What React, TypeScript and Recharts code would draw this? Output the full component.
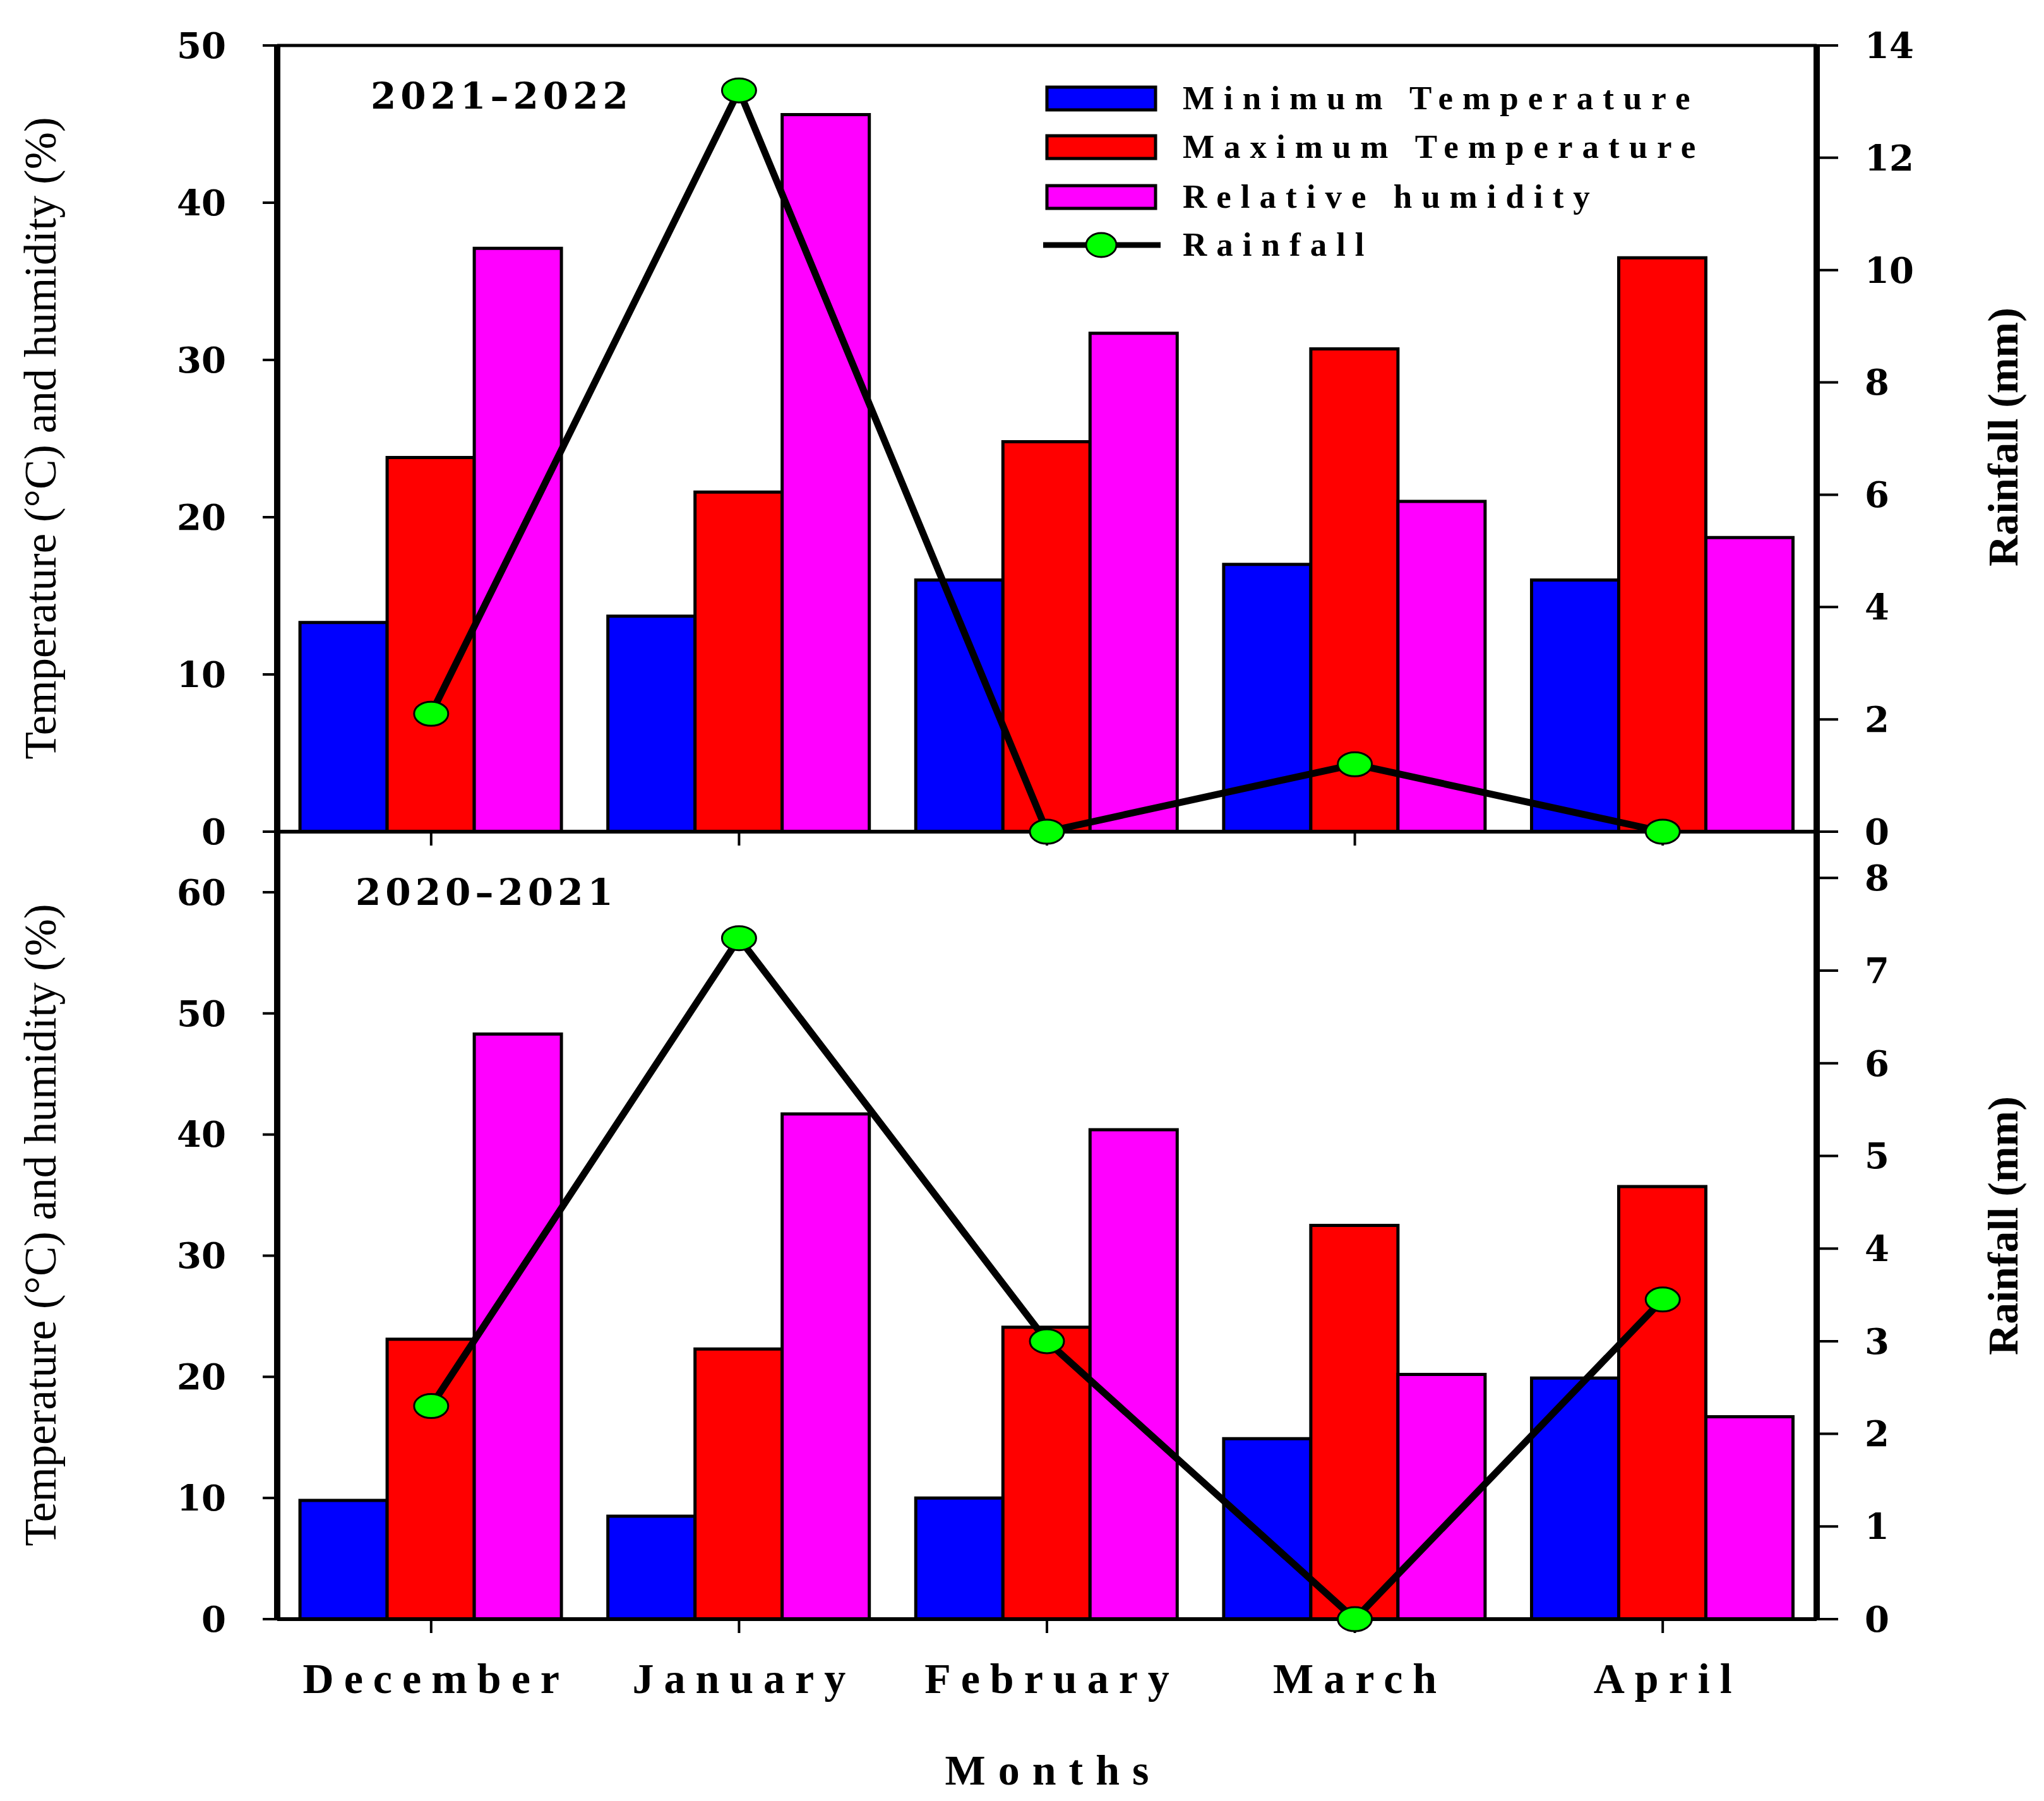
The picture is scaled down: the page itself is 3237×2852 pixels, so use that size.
import { ComposedChart, Bar, Line, XAxis, YAxis, ReferenceLine } from "recharts"

const months = ["December", "January", "February", "March", "April"]

// 2021–2022 season (top panel)
const minTemp2122 = [13.3, 13.7, 16.0, 17.0, 16.0]
const maxTemp2122 = [23.8, 21.6, 24.8, 30.7, 36.5]
const humidity2122 = [37.1, 45.6, 31.7, 21.0, 18.7]
const rainfall2122 = [2.1, 13.2, 0, 1.2, 0]

// 2020–2021 season (bottom panel)
const minTemp2021 = [9.8, 8.5, 10.0, 14.9, 19.9]
const maxTemp2021 = [23.1, 22.3, 24.1, 32.5, 35.7]
const humidity2021 = [48.3, 41.7, 40.4, 20.2, 16.7]
const rainfall2021 = [2.3, 7.35, 3.0, 0, 3.45]

const topLeftTicks = [0, 10, 20, 30, 40, 50]
const topRightTicks = [0, 2, 4, 6, 8, 10, 12, 14]
const bottomLeftTicks = [0, 10, 20, 30, 40, 50, 60]
const bottomRightTicks = [0, 1, 2, 3, 4, 5, 6, 7, 8]

const build = (mn: number[], mx: number[], rh: number[], rain: number[]) =>
  months.map((m, i) => ({ month: m, min: mn[i], max: mx[i], rh: rh[i], rain: rain[i] }))

const data2122 = build(minTemp2122, maxTemp2122, humidity2122, rainfall2122)
const data2021 = build(minTemp2021, maxTemp2021, humidity2021, rainfall2021)

const W = 3237
const serif = "'Liberation Serif', serif"
const tickFont = { fontFamily: "'DejaVu Serif', serif", fontSize: 56, fontWeight: 700, fill: "#000" }

const Dot = (props: any) => {
  const { cx, cy } = props
  if (cx == null || cy == null) return null
  return <ellipse cx={cx} cy={cy} rx={27} ry={19} fill="#00ff00" stroke="#000" strokeWidth={3} />
}

const EmptyTick = () => <g />

const MonthTick = (props: any) => {
  const { x, y, payload } = props
  return (
    <text x={x + 8} y={y + 95} textAnchor="middle" fontFamily={serif} fontSize={68} fontWeight={700} letterSpacing={16} fill="#000">
      {payload.value}
    </text>
  )
}

function Panel({ data, height, top, margin, xHeight, leftDomain, leftTicks, rightDomain, rightTicks, showMonths, border }: any) {
  return (
    <div style={{ position: "absolute", left: 0, top }}>
      <ComposedChart width={W} height={height} data={data} margin={margin} barCategoryGap="7.4%" barGap={0}>
        <XAxis
          dataKey="month"
          height={xHeight}
          axisLine={{ stroke: "#000", strokeWidth: 6 }}
          tickLine={{ stroke: "#000", strokeWidth: 4 }}
          tickSize={22}
          tickMargin={0}
          tick={showMonths ? <MonthTick /> : EmptyTick}
          interval={0}
        />
        <YAxis
          yAxisId="left"
          orientation="left"
          width={100}
          domain={leftDomain}
          ticks={leftTicks}
          interval={0}
          axisLine={{ stroke: "#000", strokeWidth: 10 }}
          tickLine={{ stroke: "#000", strokeWidth: 4 }}
          tickSize={23}
          tickMargin={58}
          tick={tickFont}
        />
        <YAxis
          yAxisId="right"
          orientation="right"
          width={200}
          domain={rightDomain}
          ticks={rightTicks}
          interval={0}
          axisLine={{ stroke: "#000", strokeWidth: 10 }}
          tickLine={{ stroke: "#000", strokeWidth: 4 }}
          tickSize={34}
          tickMargin={42}
          tick={tickFont}
        />
        {border && <ReferenceLine yAxisId="left" y={leftDomain[1]} stroke="#000" strokeWidth={5} />}
        <Bar yAxisId="left" dataKey="min" fill="#0000ff" stroke="#000" strokeWidth={5} isAnimationActive={false} />
        <Bar yAxisId="left" dataKey="max" fill="#ff0000" stroke="#000" strokeWidth={5} isAnimationActive={false} />
        <Bar yAxisId="left" dataKey="rh" fill="#ff00ff" stroke="#000" strokeWidth={5} isAnimationActive={false} />
        <Line
          yAxisId="right"
          type="linear"
          dataKey="rain"
          stroke="#000"
          strokeWidth={11}
          dot={<Dot />}
          activeDot={false}
          isAnimationActive={false}
        />
      </ComposedChart>
    </div>
  )
}

const legendItems = [
  { label: "Minimum Temperature", color: "#0000ff" },
  { label: "Maximum Temperature", color: "#ff0000" },
  { label: "Relative humidity", color: "#ff00ff" },
]

function Overlay() {
  const rows = [156, 233, 312, 388]
  return (
    <svg width={W} height={2852} style={{ position: "absolute", left: 0, top: 0, pointerEvents: "none" }}>
      <text x={587} y={172} fontFamily="'DejaVu Serif', serif" fontSize={58} fontWeight={700} letterSpacing={7} fill="#000">
        2021–2022
      </text>
      <text x={563} y={1433} fontFamily="'DejaVu Serif', serif" fontSize={58} fontWeight={700} letterSpacing={7} fill="#000">
        2020–2021
      </text>
      {[694, 1940].map((cy) => (
        <text key={cy} x={88} y={cy} transform={`rotate(-90 88 ${cy})`} textAnchor="middle" fontFamily={serif} fontSize={71} fill="#000">
          Temperature (°C) and humidity (%)
        </text>
      ))}
      {[692, 1941].map((cy) => (
        <text key={cy} x={3195} y={cy} transform={`rotate(-90 3195 ${cy})`} textAnchor="middle" fontFamily={serif} fontSize={68} fontWeight={700} fill="#000">
          Rainfall (mm)
        </text>
      ))}
      <text x={1668} y={2826} textAnchor="middle" fontFamily={serif} fontSize={68} fontWeight={700} letterSpacing={20} fill="#000">
        Months
      </text>
      {legendItems.map((it, i) => (
        <g key={it.label}>
          <rect x={1658} y={rows[i] - 18} width={172} height={36} fill={it.color} stroke="#000" strokeWidth={5} />
          <text x={1873} y={rows[i] + 17} fontFamily={serif} fontSize={53} fontWeight={700} letterSpacing={15} fill="#000">
            {it.label}
          </text>
        </g>
      ))}
      <line x1={1652} x2={1838} y1={rows[3]} y2={rows[3]} stroke="#000" strokeWidth={9} />
      <ellipse cx={1744} cy={rows[3]} rx={24} ry={19} fill="#00ff00" stroke="#000" strokeWidth={3} />
      <text x={1873} y={rows[3] + 17} fontFamily={serif} fontSize={53} fontWeight={700} letterSpacing={15} fill="#000">
        Rainfall
      </text>
    </svg>
  )
}

export default function App() {
  return (
    <div style={{ position: "absolute", left: 0, top: 0, width: W, height: 2852, background: "#fff" }}>
      <Panel
        data={data2021}
        top={1300}
        height={1414}
        margin={{ top: 17, right: 160, left: 339, bottom: 0 }}
        xHeight={150}
        leftDomain={[0, 65]}
        leftTicks={bottomLeftTicks}
        rightDomain={[0, 8.5]}
        rightTicks={bottomRightTicks}
        showMonths
        border={false}
      />
      <Panel
        data={data2122}
        top={0}
        height={1360}
        margin={{ top: 72, right: 160, left: 339, bottom: 0 }}
        xHeight={43}
        leftDomain={[0, 50]}
        leftTicks={topLeftTicks}
        rightDomain={[0, 14]}
        rightTicks={topRightTicks}
        showMonths={false}
        border
      />
      <Overlay />
    </div>
  )
}
